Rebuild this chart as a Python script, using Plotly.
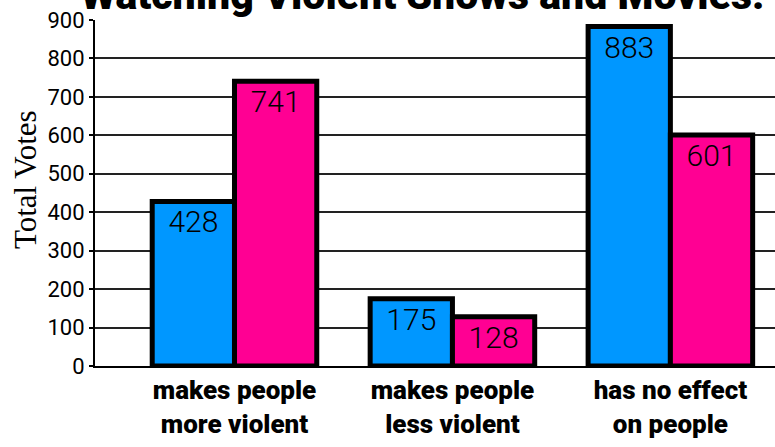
import plotly.graph_objects as go

categories = ["makes people<br>more violent", "makes people<br>less violent", "has no effect<br>on people"]
series_a = [428, 175, 883]
series_b = [741, 128, 601]
y_ticks = [0, 100, 200, 300, 400, 500, 600, 700, 800, 900]

blue = "#0097FF"
pink = "#FF0093"

fig = go.Figure()
for name, vals, col in [("Series 1", series_a, blue), ("Series 2", series_b, pink)]:
    fig.add_trace(go.Bar(
        x=[0, 1, 2], y=vals, name=name,
        marker=dict(color=col, line=dict(color="black", width=5)),
        text=[str(v) for v in vals],
        textposition="inside", insidetextanchor="end",
        textangle=0,
        textfont=dict(family="Roboto", size=30, color="black", weight=300),
        cliponaxis=False,
    ))

fig.add_annotation(
    text="Total Votes", textangle=-90,
    xref="paper", yref="paper", x=-0.103, y=0.54,
    xanchor="center", yanchor="middle", showarrow=False,
    font=dict(family="Liberation Serif", size=31, color="black"),
)

fig.update_layout(
    width=775, height=447,
    margin=dict(l=95, r=0, t=20, b=81),
    paper_bgcolor="white", plot_bgcolor="white",
    showlegend=False,
    barmode="group", bargap=0.245, bargroupgap=0,
    uniformtext=dict(mode=False),
    title=dict(
        text="Watching Violent Shows and Movies:",
        font=dict(family="Roboto", size=41, color="black", weight=900),
        x=0.545, xanchor="center", y=1 - 9 / 447, yanchor="bottom", yref="container",
        pad=dict(t=0, b=0),
    ),
    xaxis=dict(
        range=[-0.64, 2.48],
        tickvals=[0, 1, 2], ticktext=categories,
        tickfont=dict(family="Roboto", size=26, color="black", weight=900),
        showline=True, linecolor="black", linewidth=2,
        ticks="", showgrid=False, zeroline=False,
        fixedrange=True,
    ),
    yaxis=dict(
        range=[0, 900],
        tickvals=y_ticks,
        tickfont=dict(family="Roboto", size=22, color="black"),
        showline=True, linecolor="black", linewidth=2,
        ticks="outside", ticklen=4, tickcolor="black", tickwidth=1.5,
        showgrid=True, gridcolor="#222222", gridwidth=1.5,
        zeroline=False,
        fixedrange=True,
    ),
)

fig.write_html("out.html")
